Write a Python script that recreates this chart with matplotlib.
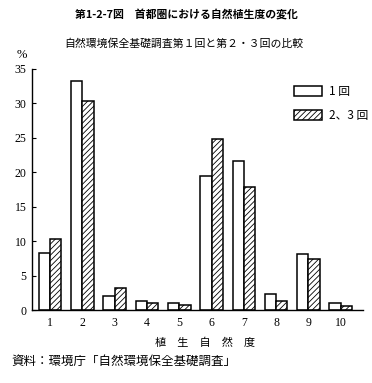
import matplotlib.pyplot as plt
import numpy as np

plt.rcParams['font.family'] = ['Noto Sans CJK JP', 'DejaVu Sans']
plt.rcParams['hatch.linewidth'] = 0.6

# ── Data ────────────────────────────────────────────────────────
degrees = [1, 2, 3, 4, 5, 6, 7, 8, 9, 10]
survey_1 = [8.3, 33.3, 2.1, 1.3, 1.0, 19.4, 21.6, 2.4, 8.1, 1.0]
survey_23 = [10.4, 30.4, 3.2, 1.1, 0.8, 24.9, 17.9, 1.4, 7.5, 0.6]
series_names = ['1 回', '2、3 回']
y_ticks = [0, 5, 10, 15, 20, 25, 30, 35]

fig = plt.figure(figsize=(3.72, 3.83), dpi=100)
fig.patch.set_facecolor('white')
ax = fig.add_axes([0.086, 0.19, 0.89, 0.63])

x = np.array(degrees)
w = 0.35
ax.bar(x - w/2, survey_1, w, facecolor='white', edgecolor='black',
       linewidth=1.1, label=series_names[0])
ax.bar(x + w/2, survey_23, w, facecolor='white', edgecolor='black',
       linewidth=1.1, hatch='//////', label=series_names[1])

ax.set_xlim(0.44, 10.69)
ax.set_ylim(0, 35)
ax.set_yticks(y_ticks)
ax.set_xticks(degrees)

serif = 'Liberation Serif'
for lbl in ax.get_yticklabels() + ax.get_xticklabels():
    lbl.set_family(serif)
    lbl.set_fontsize(8.5)
ax.tick_params(axis='y', direction='in', length=3, width=0.8, pad=4)
ax.tick_params(axis='x', length=0, pad=5)

for s in ['top', 'right']:
    ax.spines[s].set_visible(False)
ax.spines['left'].set_linewidth(1.0)
ax.spines['bottom'].set_linewidth(1.0)

leg = ax.legend(loc='upper left', bbox_to_anchor=(0.765, 0.968), frameon=False,
                fontsize=8.5, handlelength=2.4, handleheight=0.85,
                handletextpad=0.6, labelspacing=0.95, borderaxespad=0.3)

# ── Texts ───────────────────────────────────────────────────────
fig.text(0.5, 0.963, '第1-2-7図　首都圏における自然植生度の変化',
         ha='center', va='center', fontsize=7.8, fontweight='bold')
fig.text(0.495, 0.887, '自然環境保全基礎調査第１回と第２・３回の比較',
         ha='center', va='center', fontsize=7.8)
fig.text(0.058, 0.856, '%', ha='center', va='center', fontsize=9,
         family=serif)
fig.text(0.55, 0.105, '植　生　自　然　度', ha='center', va='center',
         fontsize=8)
fig.text(0.032, 0.057, '資料：環境庁「自然環境保全基礎調査」',
         ha='left', va='center', fontsize=9)

fig.savefig('out.png', dpi=100, facecolor='white')
